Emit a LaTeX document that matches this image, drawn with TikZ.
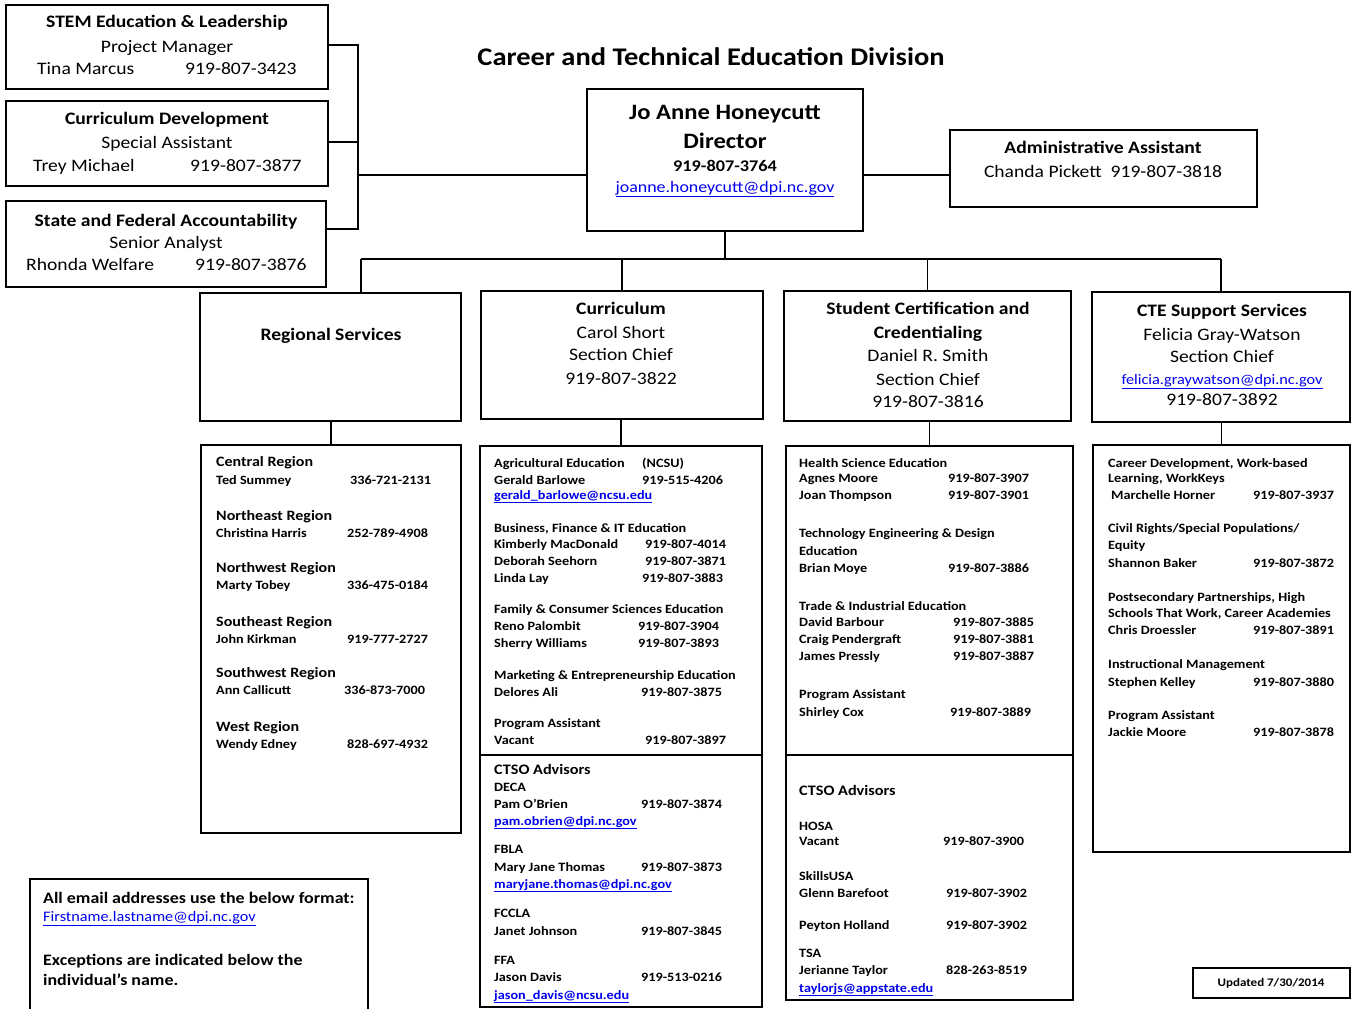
\documentclass[tikz,border=0pt]{standalone}
\usepackage{fontspec}
\setmainfont{Carlito}[FakeStretch=1.12]
\definecolor{linkblue}{RGB}{0,0,238}
\newcommand\fsz[1]{\fontsize{#1pt}{#1pt}\selectfont}
\newcommand\Ln[5]{\node[#2] (#1) at (#3,#4) {#5};}
\newcommand\ulk[1]{\underline{#1}}
\tikzset{
  bx/.style={draw, line width=1.5pt, rectangle, anchor=north west, inner sep=0pt, outer sep=0pt},
  nbx/.style={rectangle, anchor=north west, inner sep=0pt, outer sep=0pt},
  conn/.style={line width=1.2pt},
  ttl/.style={font=\fsz{25.4}\bfseries, anchor=base, inner sep=0pt, yshift=-8pt},
  hb/.style={font=\fsz{17.5}\bfseries, anchor=base, inner sep=0pt, yshift=-5.6pt},
  hr/.style={font=\fsz{17.5}, anchor=base, inner sep=0pt, yshift=-5.6pt},
  hrw/.style={font=\fsz{17.5}, anchor=base west, inner sep=0pt, yshift=-5.6pt},
  db/.style={font=\fsz{22}\bfseries, anchor=base, inner sep=0pt, yshift=-7pt},
  dp/.style={font=\fsz{16.3}\bfseries, anchor=base, inner sep=0pt, yshift=-5.2pt},
  hk/.style={font=\fsz{16}, text=linkblue, anchor=base, inner sep=0pt, yshift=-5.1pt},
  hks/.style={font=\fsz{14.5}, text=linkblue, anchor=base, inner sep=0pt, yshift=-4.6pt},
  lb/.style={font=\fsz{12.7}\bfseries, anchor=base west, inner sep=0pt, yshift=-4pt},
  lt/.style={font=\fsz{14.3}\bfseries, anchor=base west, inner sep=0pt, yshift=-4.6pt},
  lc/.style={font=\fsz{14.5}\bfseries, anchor=base west, inner sep=0pt, yshift=-4.6pt},
  lk/.style={font=\fsz{12.7}\bfseries, text=linkblue, anchor=base west, inner sep=0pt, yshift=-4pt},
  nb/.style={font=\fsz{16}\bfseries, anchor=base west, inner sep=0pt, yshift=-5.1pt},
  nk/.style={font=\fsz{14.5}, text=linkblue, anchor=base west, inner sep=0pt, yshift=-4.6pt},
  ub/.style={font=\fsz{11.6}\bfseries, anchor=base, inner sep=0pt, yshift=-3.7pt}
}
\begin{document}
\begin{tikzpicture}[x=1pt,y=-1pt]
\useasboundingbox (0,0) rectangle (1352,1009);
\fill[white] (0,0) rectangle (1352,1009);

% ---------- boxes ----------
\node[bx, minimum width=322pt, minimum height=84pt] (stem) at (6,5) {};
\node[bx, minimum width=322pt, minimum height=85pt] (curdev) at (6,101) {};
\node[bx, minimum width=320pt, minimum height=86pt] (sfa) at (6,201) {};
\node[bx, minimum width=276pt, minimum height=142pt] (dir) at (587,89) {};
\node[bx, minimum width=307pt, minimum height=77pt] (adm) at (950,130) {};
\node[bx, minimum width=261pt, minimum height=128pt] (reg) at (200,293) {};
\node[bx, minimum width=282pt, minimum height=128pt] (cur) at (481,291) {};
\node[bx, minimum width=287pt, minimum height=130pt] (stu) at (784,291) {};
\node[bx, minimum width=258pt, minimum height=130pt] (cte) at (1092,292) {};
\node[bx, minimum width=260pt, minimum height=388pt] (reglist) at (201,445) {};
\node[bx, minimum width=282pt, minimum height=309pt] (curA) at (480,446) {};
\node[bx, minimum width=282pt, minimum height=252pt] (curB) at (480,755) {};
\node[bx, minimum width=287pt, minimum height=309pt] (stuA) at (786,446) {};
\node[bx, minimum width=287pt, minimum height=245pt] (stuB) at (786,755) {};
\node[bx, minimum width=257pt, minimum height=407pt] (ctel) at (1093,445) {};
\node[nbx, minimum width=338pt, minimum height=131pt] (note) at (30,879) {};
\draw[line width=1.5pt] (note.south west) -- (note.north west) -- (note.north east) -- (note.south east);
\node[bx, minimum width=157pt, minimum height=30pt] (upd) at (1193,968) {};

% ---------- connectors ----------
\coordinate (jA) at (358,45);
\coordinate (jB) at (358,142);
\coordinate (jC) at (358,229);
\coordinate (jD) at (358,175);
\coordinate (busL) at (361,259);
\draw[conn] (jA -| stem.east) -- (jA) -- (jC) -- (jC -| sfa.east);
\draw[conn] (jB -| curdev.east) -- (jB);
\draw[conn] (jD) -- (jD -| dir.west);
\draw[conn] (dir.east |- jD) -- (adm.west |- jD);
\draw[conn] (dir.south) -- (dir.south |- busL);
\draw[conn] (busL) -- (cte.north |- busL);
\draw[conn] (busL) -- (busL |- reg.north);
\draw[conn] (cur.north |- busL) -- (cur.north);
\draw[conn] (stu.north |- busL) -- (stu.north);
\draw[conn] (cte.north |- busL) -- (cte.north);
\draw[conn] (reg.south -| reglist.north) -- (reglist.north);
\draw[conn] (cur.south -| curA.north) -- (curA.north);
\draw[conn] (stu.south -| stuA.north) -- (stuA.north);
\draw[conn] (cte.south -| ctel.north) -- (ctel.north);

% ---------- title ----------
\Ln{title}{ttl}{711}{57}{Career and Technical Education Division}

% ---------- top-left boxes ----------
\Ln{s1}{hb}{167}{22}{STEM Education \& Leadership}
\Ln{s2}{hr}{167}{47}{Project Manager}
\Ln{s3}{hrw}{37}{69}{Tina Marcus}
\Ln{s4}{hrw}{185}{69}{919-807-3423}
\Ln{c1}{hb}{167}{119}{Curriculum Development}
\Ln{c2}{hr}{167}{143}{Special Assistant}
\Ln{c3}{hrw}{33}{166}{Trey Michael}
\Ln{c4}{hrw}{190}{166}{919-807-3877}
\Ln{f1}{hb}{166}{221}{State and Federal Accountability}
\Ln{f2}{hr}{166}{243}{Senior Analyst}
\Ln{f3}{hrw}{26}{265}{Rhonda Welfare}
\Ln{f4}{hrw}{195}{265}{919-807-3876}

% ---------- director / admin ----------
\Ln{d1}{db}{725}{112}{Jo Anne Honeycutt}
\Ln{d2}{db}{725}{141}{Director}
\Ln{d3}{dp}{725}{166}{919-807-3764}
\Ln{d4}{hk}{725}{187}{\ulk{joanne.honeycutt@dpi.nc.gov}}
\Ln{a1}{hb}{1103}{148}{Administrative Assistant}
\Ln{a2}{hr}{1103}{172}{Chanda Pickett\ \ 919-807-3818}

% ---------- section headers ----------
\Ln{r1}{hb}{331}{335}{Regional Services}
\Ln{u1}{hb}{621}{309}{Curriculum}
\Ln{u2}{hr}{621}{333}{Carol Short}
\Ln{u3}{hr}{621}{355}{Section Chief}
\Ln{u4}{hr}{621}{379}{919-807-3822}
\Ln{v1}{hb}{928}{309}{Student Certification and}
\Ln{v2}{hb}{928}{333}{Credentialing}
\Ln{v3}{hr}{928}{356}{Daniel R. Smith}
\Ln{v4}{hr}{928}{380}{Section Chief}
\Ln{v5}{hr}{928}{402}{919-807-3816}
\Ln{w1}{hb}{1222}{311}{CTE Support Services}
\Ln{w2}{hr}{1222}{335}{Felicia Gray-Watson}
\Ln{w3}{hr}{1222}{357}{Section Chief}
\Ln{w4}{hks}{1222}{380}{\ulk{felicia.graywatson@dpi.nc.gov}}
\Ln{w5}{hr}{1222}{400}{919-807-3892}

% ---------- regional list ----------
\Ln{g1}{lt}{216}{462}{Central Region}
\Ln{g2}{lb}{216}{480}{Ted Summey}
\Ln{g3}{lb}{350}{480}{336-721-2131}
\Ln{g4}{lt}{216}{516}{Northeast Region}
\Ln{g5}{lb}{216}{533}{Christina Harris}
\Ln{g6}{lb}{347}{533}{252-789-4908}
\Ln{g7}{lt}{216}{568}{Northwest Region}
\Ln{g8}{lb}{216}{585}{Marty Tobey}
\Ln{g9}{lb}{347}{585}{336-475-0184}
\Ln{g10}{lt}{216}{622}{Southeast Region}
\Ln{g11}{lb}{216}{639}{John Kirkman}
\Ln{g12}{lb}{347}{639}{919-777-2727}
\Ln{g13}{lt}{216}{673}{Southwest Region}
\Ln{g14}{lb}{216}{690}{Ann Callicutt}
\Ln{g15}{lb}{344}{690}{336-873-7000}
\Ln{g16}{lt}{216}{727}{West Region}
\Ln{g17}{lb}{216}{744}{Wendy Edney}
\Ln{g18}{lb}{347}{744}{828-697-4932}

% ---------- curriculum list ----------
\Ln{k1}{lb}{494}{463}{Agricultural Education}
\Ln{k2}{lb}{642}{463}{(NCSU)}
\Ln{k3}{lb}{494}{480}{Gerald Barlowe}
\Ln{k4}{lb}{642}{480}{919-515-4206}
\Ln{k5}{lk}{494}{495}{\ulk{gerald\_barlowe@ncsu.edu}}
\Ln{k6}{lb}{494}{528}{Business, Finance \& IT Education}
\Ln{k7}{lb}{494}{544}{Kimberly MacDonald}
\Ln{k8}{lb}{645}{544}{919-807-4014}
\Ln{k9}{lb}{494}{561}{Deborah Seehorn}
\Ln{k10}{lb}{645}{561}{919-807-3871}
\Ln{k11}{lb}{494}{578}{Linda Lay}
\Ln{k12}{lb}{642}{578}{919-807-3883}
\Ln{k13}{lb}{494}{609}{Family \& Consumer Sciences Education}
\Ln{k14}{lb}{494}{626}{Reno Palombit}
\Ln{k15}{lb}{638}{626}{919-807-3904}
\Ln{k16}{lb}{494}{643}{Sherry Williams}
\Ln{k17}{lb}{638}{643}{919-807-3893}
\Ln{k18}{lb}{494}{675}{Marketing \& Entrepreneurship Education}
\Ln{k19}{lb}{494}{692}{Delores Ali}
\Ln{k20}{lb}{641}{692}{919-807-3875}
\Ln{k21}{lb}{494}{723}{Program Assistant}
\Ln{k22}{lb}{494}{740}{Vacant}
\Ln{k23}{lb}{645}{740}{919-807-3897}
\Ln{m1}{lc}{494}{770}{CTSO Advisors}
\Ln{m2}{lb}{494}{787}{DECA}
\Ln{m3}{lb}{494}{804}{Pam O’Brien}
\Ln{m4}{lb}{641}{804}{919-807-3874}
\Ln{m5}{lk}{494}{821}{\ulk{pam.obrien@dpi.nc.gov}}
\Ln{m6}{lb}{494}{849}{FBLA}
\Ln{m7}{lb}{494}{867}{Mary Jane Thomas}
\Ln{m8}{lb}{641}{867}{919-807-3873}
\Ln{m9}{lk}{494}{884}{\ulk{maryjane.thomas@dpi.nc.gov}}
\Ln{m10}{lb}{494}{913}{FCCLA}
\Ln{m11}{lb}{494}{931}{Janet Johnson}
\Ln{m12}{lb}{641}{931}{919-807-3845}
\Ln{m13}{lb}{494}{960}{FFA}
\Ln{m14}{lb}{494}{977}{Jason Davis}
\Ln{m15}{lb}{641}{977}{919-513-0216}
\Ln{m16}{lk}{494}{995}{\ulk{jason\_davis@ncsu.edu}}

% ---------- student certification list ----------
\Ln{p1}{lb}{799}{463}{Health Science Education}
\Ln{p2}{lb}{799}{478}{Agnes Moore}
\Ln{p3}{lb}{948}{478}{919-807-3907}
\Ln{p4}{lb}{799}{495}{Joan Thompson}
\Ln{p5}{lb}{948}{495}{919-807-3901}
\Ln{p6}{lb}{799}{533}{Technology Engineering \& Design}
\Ln{p7}{lb}{799}{551}{Education}
\Ln{p8}{lb}{799}{568}{Brian Moye}
\Ln{p9}{lb}{948}{568}{919-807-3886}
\Ln{p10}{lb}{799}{606}{Trade \& Industrial Education}
\Ln{p11}{lb}{799}{622}{David Barbour}
\Ln{p12}{lb}{953}{622}{919-807-3885}
\Ln{p13}{lb}{799}{639}{Craig Pendergraft}
\Ln{p14}{lb}{953}{639}{919-807-3881}
\Ln{p15}{lb}{799}{656}{James Pressly}
\Ln{p16}{lb}{953}{656}{919-807-3887}
\Ln{p17}{lb}{799}{694}{Program Assistant}
\Ln{p18}{lb}{799}{712}{Shirley Cox}
\Ln{p19}{lb}{950}{712}{919-807-3889}
\Ln{q1}{lc}{799}{791}{CTSO Advisors}
\Ln{q2}{lb}{799}{826}{HOSA}
\Ln{q3}{lb}{799}{841}{Vacant}
\Ln{q4}{lb}{943}{841}{919-807-3900}
\Ln{q5}{lb}{799}{876}{SkillsUSA}
\Ln{q6}{lb}{799}{893}{Glenn Barefoot}
\Ln{q7}{lb}{946}{893}{919-807-3902}
\Ln{q8}{lb}{799}{925}{Peyton Holland}
\Ln{q9}{lb}{946}{925}{919-807-3902}
\Ln{q10}{lb}{799}{953}{TSA}
\Ln{q11}{lb}{799}{970}{Jerianne Taylor}
\Ln{q12}{lb}{946}{970}{828-263-8519}
\Ln{q13}{lk}{799}{988}{\ulk{taylorjs@appstate.edu}}

% ---------- CTE support list ----------
\Ln{e1}{lb}{1108}{463}{Career Development, Work-based}
\Ln{e2}{lb}{1108}{478}{Learning, WorkKeys}
\Ln{e3}{lb}{1111}{495}{Marchelle Horner}
\Ln{e4}{lb}{1253}{495}{919-807-3937}
\Ln{e5}{lb}{1108}{528}{Civil Rights/Special Populations/}
\Ln{e6}{lb}{1108}{545}{Equity}
\Ln{e7}{lb}{1108}{563}{Shannon Baker}
\Ln{e8}{lb}{1253}{563}{919-807-3872}
\Ln{e9}{lb}{1108}{597}{Postsecondary Partnerships, High}
\Ln{e10}{lb}{1108}{613}{Schools That Work, Career Academies}
\Ln{e11}{lb}{1108}{630}{Chris Droessler}
\Ln{e12}{lb}{1253}{630}{919-807-3891}
\Ln{e13}{lb}{1108}{664}{Instructional Management}
\Ln{e14}{lb}{1108}{682}{Stephen Kelley}
\Ln{e15}{lb}{1253}{682}{919-807-3880}
\Ln{e16}{lb}{1108}{715}{Program Assistant}
\Ln{e17}{lb}{1108}{732}{Jackie Moore}
\Ln{e18}{lb}{1253}{732}{919-807-3878}

% ---------- note and update ----------
\Ln{n1}{nb}{43}{898}{All email addresses use the below format:}
\Ln{n2}{nk}{43}{917}{\ulk{Firstname.lastname@dpi.nc.gov}}
\Ln{n3}{nb}{43}{960}{Exceptions are indicated below the}
\Ln{n4}{nb}{43}{980}{individual’s name.}
\Ln{ut}{ub}{1271}{983}{Updated 7/30/2014}
\end{tikzpicture}
\end{document}
